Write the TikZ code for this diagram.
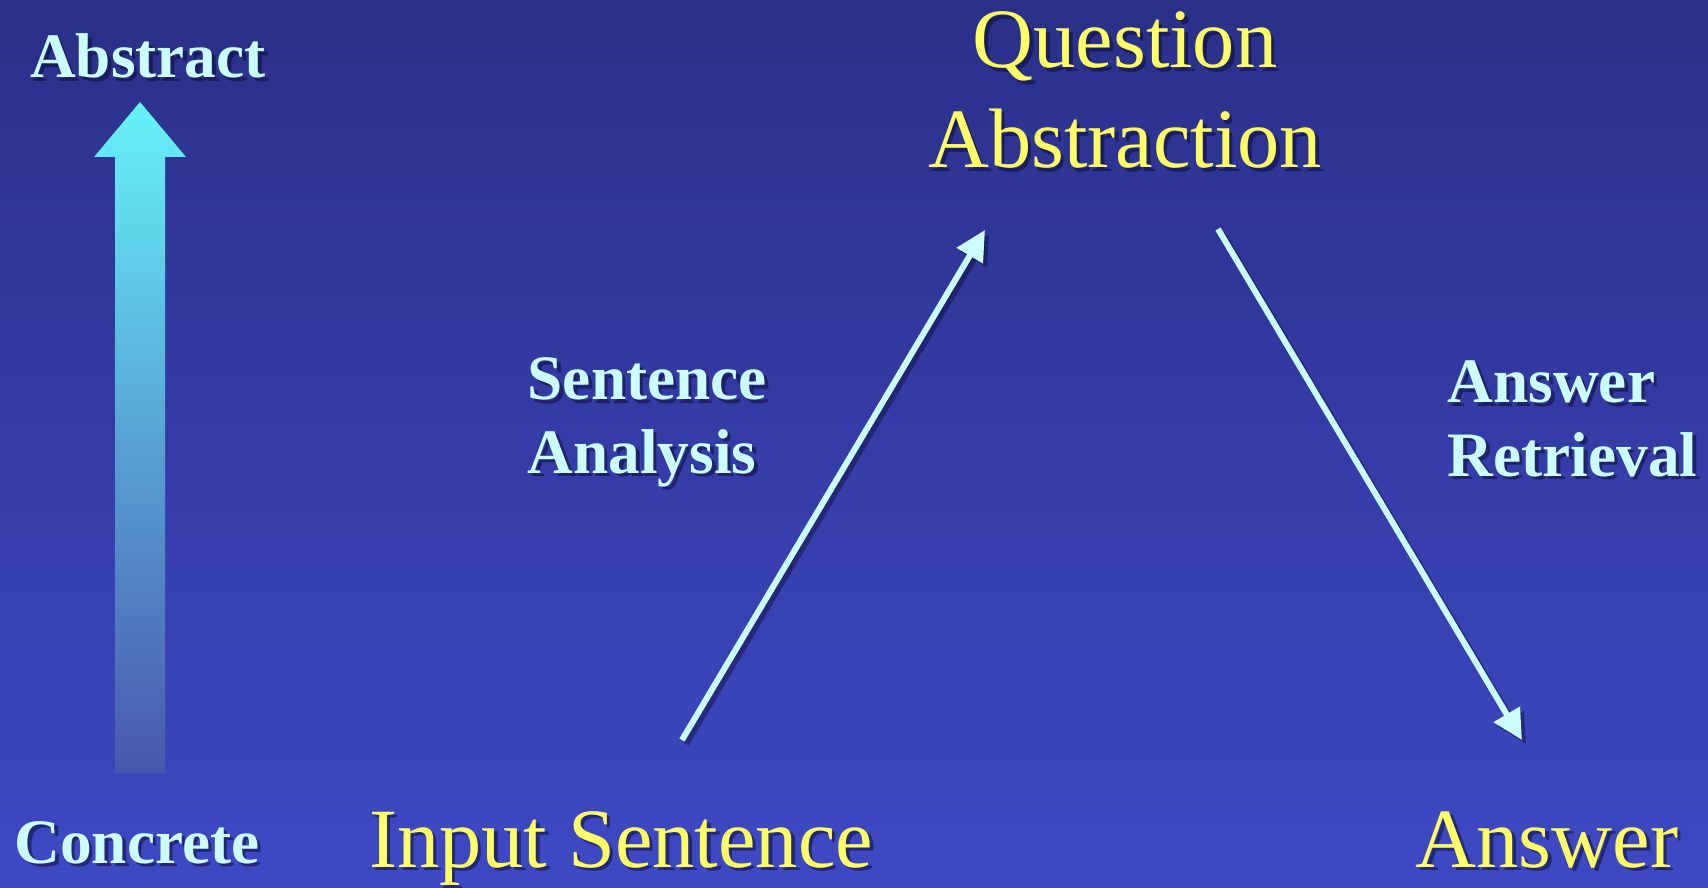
\documentclass[tikz,border=0pt]{standalone}
\usepackage{fontspec}
\setmainfont{Liberation Serif}
\usetikzlibrary{arrows.meta}

\definecolor{bgtop}{HTML}{2A3088}
\definecolor{bgbot}{HTML}{3E49C4}
\definecolor{lightcyan}{HTML}{CCFFFF}
\definecolor{paleyellow}{HTML}{FFFF66}
\definecolor{shadowblue}{HTML}{0C0C3A}
\definecolor{arrowtop}{HTML}{66F2FA}
\definecolor{arrowbot}{HTML}{4A56AE}

\tikzset{
  stage/.style={text=paleyellow, font=\fontsize{24}{28.5}\selectfont, inner sep=0pt, align=center},
  process/.style={text=lightcyan, font=\bfseries\fontsize{18}{20.8}\selectfont, inner sep=0pt, align=left},
  level/.style={text=lightcyan, font=\bfseries\fontsize{18}{20.8}\selectfont, inner sep=0pt},
  flow/.style={draw=lightcyan, line width=1.7pt, -{Triangle[length=8.5pt,width=8.3pt]}},
  dropshadow/.style={text=shadowblue, opacity=.55, xshift=.035cm, yshift=-.035cm},
  flowshadow/.style={draw=shadowblue, opacity=.45, transform canvas={xshift=.04cm, yshift=-.04cm}},
}

% text with a drop shadow: style, name, position, text
\newcommand\shadowed[4]{%
  \node[#1, dropshadow] (#2-sh) at (#3) {#4};
  \node[#1] (#2) at (#3) {#4};}

\begin{document}
\begin{tikzpicture}[x=0.01cm, y=-0.01cm]
    % background
    \shade[top color=bgtop, bottom color=bgbot] (0,0) rectangle (1708,888);
    \useasboundingbox (0,0) rectangle (1708,888);
    % scale arrow
    \shade[top color=arrowtop, bottom color=arrowbot]
        (140,102) -- (186,157) -- (165,157) -- (165,773)
        -- (115,773) -- (115,157) -- (94,157) -- cycle;
    \shadowed{level, anchor=base}{abstract}{148,78}{Abstract}
    \shadowed{level, anchor=base}{concrete}{137,863}{Concrete}
    % stages (base = last line)
    \shadowed{stage, anchor=base}{question}{1125,168}{Question\\Abstraction}
    \shadowed{stage, anchor=base}{input}{621,867}{Input Sentence}
    \shadowed{stage, anchor=base}{answer}{1547,867}{Answer}
    % processes
    \shadowed{process, anchor=base west}{analysis}{527,473}{Sentence\\Analysis}
    \shadowed{process, anchor=base west}{retrieval}{1447,476}{Answer\\Retrieval}
    % flows
    \coordinate (sa-from) at (682,740);
    \coordinate (sa-to) at (985,230);
    \coordinate (ar-from) at (1218,229);
    \coordinate (ar-to) at (1522,740);
    \draw[flow, flowshadow] (sa-from) -- (sa-to);
    \draw[flow, flowshadow] (ar-from) -- (ar-to);
    \draw[flow] (sa-from) -- (sa-to);
    \draw[flow] (ar-from) -- (ar-to);
\end{tikzpicture}
\end{document}
